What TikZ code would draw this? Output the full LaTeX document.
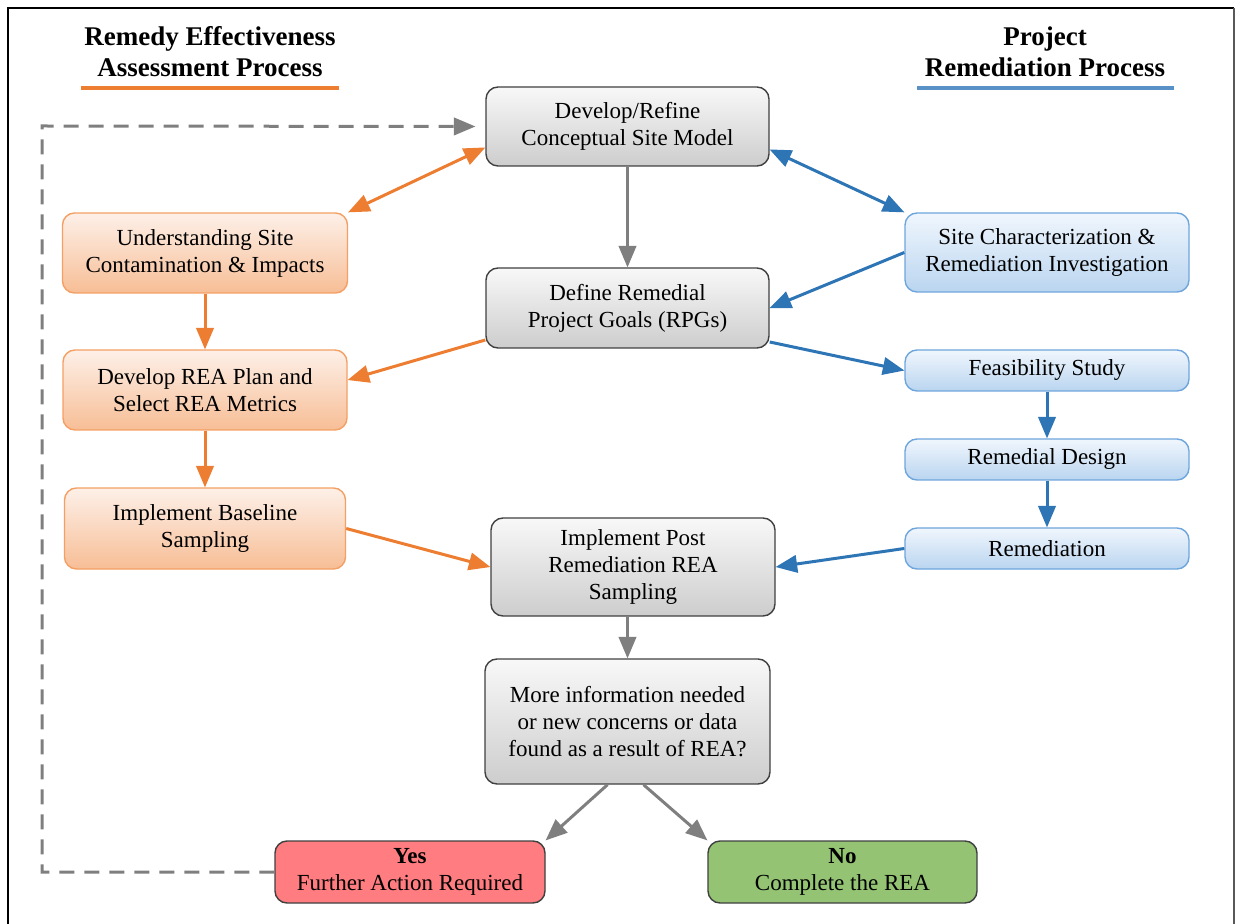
\documentclass[tikz,border=0pt]{standalone}
\usepackage{fontspec}
\setmainfont{Liberation Serif}
\usetikzlibrary{arrows}
\usetikzlibrary{calc}
\definecolor{reaorange}{RGB}{237,125,49}
\definecolor{reaorangeedge}{RGB}{244,160,100}
\definecolor{reaorangetop}{RGB}{253,240,232}
\definecolor{reaorangebot}{RGB}{247,190,150}
\definecolor{prjblue}{RGB}{46,117,182}
\definecolor{prjblueedge}{RGB}{110,165,220}
\definecolor{prjbluetop}{RGB}{240,246,253}
\definecolor{prjbluebot}{RGB}{186,213,240}
\definecolor{midgray}{RGB}{127,127,127}
\definecolor{graytop}{RGB}{248,248,248}
\definecolor{graybot}{RGB}{205,205,205}
\definecolor{yesred}{RGB}{255,124,128}
\definecolor{nogreen}{RGB}{147,195,115}
\newcommand\boxfont{\fontsize{11.5pt}{13.5pt}\selectfont}
\newcommand\headfont{\fontsize{13.5pt}{15.5pt}\selectfont\bfseries}

\begin{document}
\begin{tikzpicture}[x=0.5pt,y=-0.5pt,
  stepbase/.style={rounded corners=6pt, align=center, font=\boxfont, inner sep=2pt, line width=0.7pt},
  reabox/.style={stepbase, draw=reaorangeedge, top color=reaorangetop, bottom color=reaorangebot},
  prjbox/.style={stepbase, draw=prjblueedge, top color=prjbluetop, bottom color=prjbluebot},
  midbox/.style={stepbase, draw=black!75, top color=graytop, bottom color=graybot},
  endbox/.style={stepbase, draw=black!75},
  reaarrow/.style={reaorange, line width=1.5pt, -triangle 45},
  prjarrow/.style={prjblue, line width=1.5pt, -triangle 45},
  midarrow/.style={midgray, line width=1.5pt, -triangle 45}]
\useasboundingbox (0,0) rectangle (1236,924);

% frame
\draw[black, line width=1.2pt] (8,930) -- (8,8) -- (1234,8);
\draw[black!65, line width=1.2pt] (1234,8) -- (1234,930);

% headings
\node[font=\headfont, align=center] (reahead) at (210,52) {Remedy Effectiveness\\Assessment Process};
\draw[reaorange, line width=2pt] (81,88) -- (339,88);
\node[font=\headfont, align=center] (prjhead) at (1045,52) {Project\\Remediation Process};
\draw[prjblue!80, line width=2pt] (917,88) -- (1174,88);

% centre column
\node[midbox, minimum width=141.5pt, minimum height=39.5pt] (csm) at (627.5,126.5) {Develop/Refine\\Conceptual Site Model};
\node[midbox, minimum width=141.5pt, minimum height=40pt] (rpg) at (627.5,308) {Define Remedial\\Project Goals (RPGs)};
\node[midbox, minimum width=142pt, minimum height=49pt] (post) at (633,567) {Implement Post\\Remediation REA\\Sampling};
\node[midbox, minimum width=142.5pt, minimum height=62.5pt] (quest) at (627.5,721.5) {More information needed\\or new concerns or data\\found as a result of REA?};
\node[endbox, fill=yesred, minimum width=135pt, minimum height=31pt] (yes) at (410,872) {\textbf{Yes}\\Further Action Required};
\node[endbox, fill=nogreen, minimum width=134.5pt, minimum height=31pt] (no) at (842.5,872) {\textbf{No}\\Complete the REA};

% REA column
\node[reabox, minimum width=142.5pt, minimum height=40pt] (under) at (205,253) {Understanding Site\\Contamination \& Impacts};
\node[reabox, minimum width=142pt, minimum height=40pt] (plan) at (205,390) {Develop REA Plan and\\Select REA Metrics};
\node[reabox, minimum width=140.5pt, minimum height=40.5pt] (base) at (205,528.5) {Implement Baseline\\Sampling};

% project column
\node[prjbox, minimum width=142pt, minimum height=39.5pt] (site) at (1047,252.5) {Site Characterization \&\\Remediation Investigation};
\node[prjbox, minimum width=142pt, minimum height=20.5pt] (feas) at (1047,370.5) {Feasibility Study};
\node[prjbox, minimum width=142pt, minimum height=20.5pt] (design) at (1047,459.5) {Remedial Design};
\node[prjbox, minimum width=142pt, minimum height=20.5pt] (remed) at (1047,548.5) {Remediation};

% connectors
\draw[reaarrow, triangle 45-triangle 45] (under.north east) -- ([yshift=-10.5pt]csm.west);
\draw[prjarrow, triangle 45-triangle 45] ([yshift=-11.5pt]csm.east) -- (site.north west);
\draw[midarrow] (csm) -- (rpg);
\draw[prjarrow] (site.west) -- (rpg.east);
\draw[prjarrow] ([yshift=-17pt]rpg.east) -- (feas.west);
\draw[reaarrow] ([yshift=-16pt]rpg.west) -- ([yshift=5pt]plan.east);
\draw[reaarrow] (under) -- (plan);
\draw[reaarrow] (plan) -- (base);
\draw[reaarrow] (base.east) -- (post.west);
\draw[prjarrow] (feas) -- (design);
\draw[prjarrow] (design) -- (remed);
\draw[prjarrow] (remed.west) -- (post.east);
\draw[midarrow] (quest.north |- post.south) -- (quest.north);
\draw[midarrow] ([xshift=-10pt]quest.south) -- (yes.north east);
\draw[midarrow] ([xshift=8pt]quest.south) -- (no.north west);
\draw[midarrow, dash pattern=on 7.5pt off 5pt, shorten >=5pt] (yes.west) -- (42,872) -- (42,126) -- (csm.west);

\end{tikzpicture}
\end{document}
